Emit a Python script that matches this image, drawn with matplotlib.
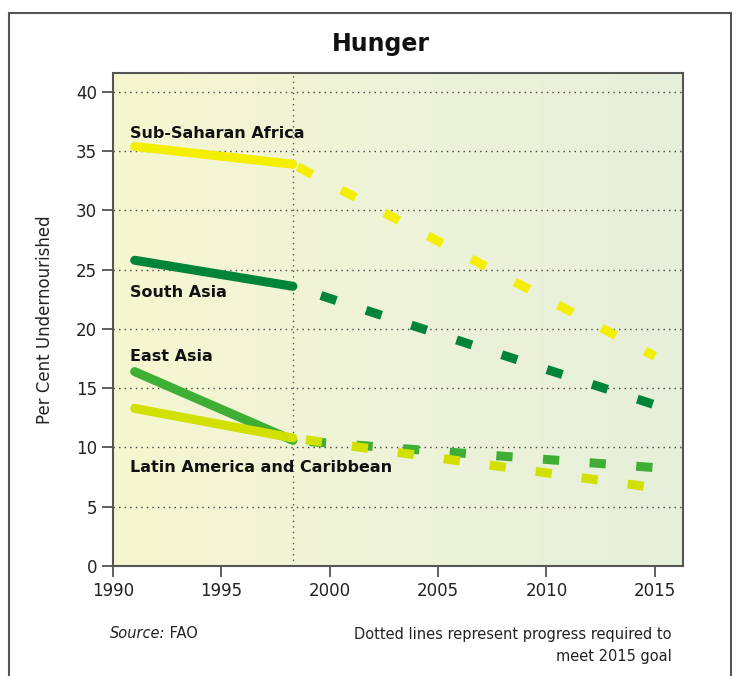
import numpy as np
import matplotlib
matplotlib.use('Agg')
import matplotlib.pyplot as plt
from matplotlib.patches import Rectangle
from matplotlib.colors import LinearSegmentedColormap

# observed (solid) and required progress (dashed), per cent undernourished
regions = ['Sub-Saharan Africa', 'South Asia', 'East Asia', 'Latin America and Caribbean']
colors = ['#f4ee00', '#00843a', '#3fae35', '#d2e000']
obs_years = [1991, 1998.3]
obs_values = [[35.4, 33.9], [25.8, 23.6], [16.4, 10.6], [13.3, 10.8]]
goal_years = [1998.3, 2015]
goal_values = [[33.9, 17.7], [23.6, 13.6], [10.6, 8.3], [10.8, 6.6]]

# dash styling per line (offset, on, off) in linewidth units
dash_styles = [(4.82, 1.8, 3.64), (2.01, 1.8, 3.47), (3.3, 1.8, 3.38), (3.69, 1.8, 3.34)]
label_pos = [(1990.78, 36.5), (1990.78, 23.1), (1990.78, 17.65), (1990.78, 8.35)]

fig = plt.figure(figsize=(7.36, 6.76), dpi=100)
fig.patch.set_facecolor('white')

# outer frame
fig.patches.append(Rectangle((9 / 736, -0.05), 722 / 736, 1.05 - 13 / 676,
                             transform=fig.transFigure, fill=False,
                             edgecolor='#555555', linewidth=1.5))

ax = fig.add_axes([113 / 736, 1 - 566 / 676, 570 / 736, 493 / 676])
ax.set_xlim(1990, 2016.3)
ax.set_ylim(0, 41.6)

# background gradient
grad = np.linspace(0, 1, 256).reshape(1, -1)
cmap = LinearSegmentedColormap.from_list('bg', ['#f6f6d0', '#eef3d8', '#e6efda'])
ax.imshow(grad, extent=[1990, 2016.3, 0, 41.6], aspect='auto', cmap=cmap, zorder=0)

for y in range(5, 45, 5):
    ax.axhline(y, color='#444444', linestyle=(0, (1, 3)), linewidth=1.0, zorder=1)
ax.axvline(1998.3, color='#555555', linestyle=(0, (1, 3)), linewidth=1.0, zorder=1)

for i, name in enumerate(regions):
    off, on, gap = dash_styles[i]
    ax.plot(goal_years, goal_values[i], color=colors[i], linewidth=6.5,
            linestyle=(off, (on, gap)), dash_capstyle='butt', zorder=2 + i)
    ax.plot(obs_years, obs_values[i], color=colors[i], linewidth=6.5,
            solid_capstyle='round', zorder=6 + i)
    ax.text(label_pos[i][0], label_pos[i][1], name, fontsize=11.5, fontweight='bold',
            color='#111111', ha='left', va='center', zorder=12)

ax.set_xticks([1990, 1995, 2000, 2005, 2010, 2015])
ax.set_yticks(range(0, 45, 5))
ax.tick_params(direction='out', length=8, width=1.2, color='#444444',
               labelsize=12, labelcolor='#222222')
for s in ax.spines.values():
    s.set_color('#555555')
    s.set_linewidth(1.5)
ax.set_ylabel('Per Cent Undernourished', fontsize=12, color='#222222', labelpad=16)

fig.text(381 / 736, 1 - 44 / 676, 'Hunger', fontsize=17, fontweight='bold',
         ha='center', va='center', color='#111111')
src = fig.text(110 / 736, 1 - 634 / 676, 'Source:', fontsize=10.5, style='italic',
               ha='left', va='center', color='#222222')
ax.annotate(' FAO', xy=(1, 0), xycoords=src, fontsize=10.5, ha='left', va='bottom',
            color='#222222', annotation_clip=False)
fig.text(672 / 736, 1 - 634 / 676, 'Dotted lines represent progress required to',
         fontsize=10.5, ha='right', va='center', color='#222222')
fig.text(672 / 736, 1 - 656 / 676, 'meet 2015 goal',
         fontsize=10.5, ha='right', va='center', color='#222222')

fig.savefig('out.png', dpi=100)
